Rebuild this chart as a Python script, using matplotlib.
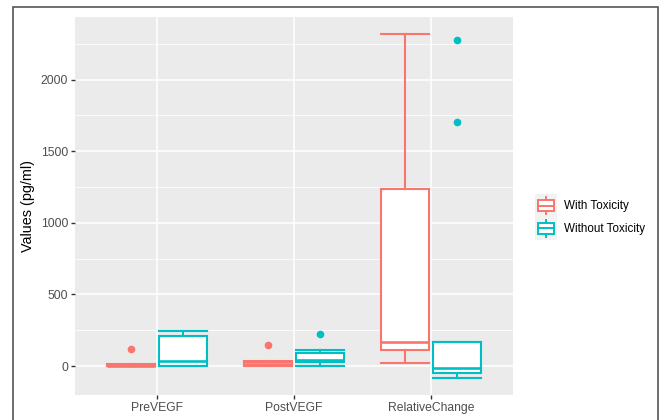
import matplotlib
matplotlib.use('Agg')
import matplotlib.pyplot as plt
from matplotlib.patches import Rectangle, Patch
from matplotlib.lines import Line2D
from matplotlib.legend_handler import HandlerBase

plt.rcParams['font.family'] = ['Liberation Sans', 'DejaVu Sans']

categories = ['PreVEGF', 'PostVEGF', 'RelativeChange']
groups = ['With Toxicity', 'Without Toxicity']
colors = ['#F8766D', '#00BFC4']

# box statistics, per group, per category
whislo = [[0, 0, 23], [0, 0, -81]]
q1 = [[0, 4, 112], [0, 26, -51]]
med = [[3, 16, 165], [35, 44, -12]]
q3 = [[10, 30, 1234], [210, 88, 165]]
whishi = [[12, 38, 2317], [247, 112, 165]]
fliers = [[[116], [144], []], [[], [221], [2275, 1707]]]

fig = plt.figure(figsize=(6.61, 4.2), dpi=100)
ax = fig.add_axes([75/661, 1-395/420, 438/661, 378/420])
ax.set_facecolor('#EBEBEB')

offsets = [-0.19, 0.19]
for g in range(2):
    stats = []
    for i in range(3):
        stats.append(dict(whislo=whislo[g][i], q1=q1[g][i], med=med[g][i],
                          q3=q3[g][i], whishi=whishi[g][i], fliers=fliers[g][i]))
    pos = [i + 1 + offsets[g] for i in range(3)]
    c = colors[g]
    ax.bxp(stats, positions=pos, widths=0.35, capwidths=0.35, patch_artist=True,
           boxprops=dict(facecolor='white', edgecolor=c, linewidth=1.5),
           whiskerprops=dict(color=c, linewidth=1.5),
           capprops=dict(color=c, linewidth=1.5),
           medianprops=dict(color=c, linewidth=1.9),
           flierprops=dict(marker='o', markerfacecolor=c, markeredgecolor=c, markersize=4.5),
           zorder=3)

ax.set_xlim(0.4, 3.6)
ax.set_ylim(-202, 2437)
ax.set_xticks([1, 2, 3])
ax.set_xticklabels(categories)
ax.set_yticks([0, 500, 1000, 1500, 2000])
ax.set_yticks([250, 750, 1250, 1750, 2250], minor=True)
ax.grid(True, which='major', color='white', linewidth=1.1, zorder=0)
ax.grid(True, which='minor', axis='y', color='white', linewidth=0.55, zorder=0)
ax.set_axisbelow(True)
for s in ax.spines.values():
    s.set_visible(False)
ax.tick_params(axis='both', which='major', length=3, width=1, color='#333333',
               labelsize=8.7, labelcolor='#4D4D4D', pad=2)
ax.tick_params(axis='both', which='minor', length=0)
ax.set_ylabel('Values (pg/ml)', fontsize=10.4, color='black', labelpad=4)


class BoxHandler(HandlerBase):
    def create_artists(self, legend, orig_handle, xdescent, ydescent,
                       width, height, fontsize, trans):
        c = orig_handle.get_edgecolor()
        x0, y0 = -xdescent, -ydescent
        cx = x0 + width / 2
        bg = Rectangle((x0, y0), width, height, facecolor='#F2F2F2',
                       edgecolor='none', transform=trans)
        wl = Line2D([cx, cx], [y0 + 2, y0 + height - 2], color=c, lw=1.4, transform=trans)
        box = Rectangle((cx - width * 0.36, y0 + height * 0.25), width * 0.72, height * 0.5,
                        facecolor='white', edgecolor=c, lw=1.4, transform=trans)
        ml = Line2D([cx - width * 0.36, cx + width * 0.36], [y0 + height / 2] * 2,
                    color=c, lw=1.4, transform=trans)
        return [bg, wl, box, ml]


handles = [Patch(edgecolor=c, facecolor='white') for c in colors]
fig.legend(handles, groups, handler_map={Patch: BoxHandler()},
           loc='center left', bbox_to_anchor=(527/661, 1-217/420),
           frameon=False, fontsize=8.4, handlelength=1.85, handleheight=2.6,
           labelspacing=0.0, handletextpad=0.6, borderpad=0.2)

# outer frame of the figure
fig.patches.append(Rectangle((13/661, -0.05), 645/661, 1.05 - 7/420, transform=fig.transFigure,
                             fill=False, edgecolor='#555555', linewidth=1.2))

fig.savefig('out.png', dpi=100)
